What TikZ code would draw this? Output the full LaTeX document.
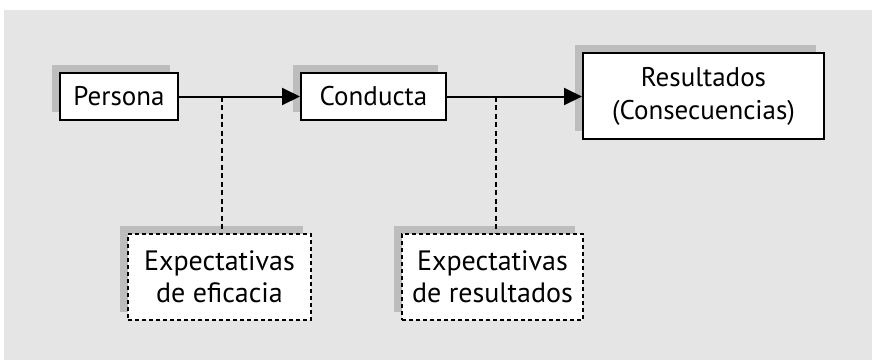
\documentclass[tikz,border=0pt]{standalone}
\usepackage{fontspec}
\setmainfont{PT Sans}
\usetikzlibrary{arrows.meta,shadows}

\tikzset{
  box/.style={draw, fill=white, line width=2pt, inner sep=0pt, align=center,
    font=\fontsize{27}{33}\selectfont,
    general shadow={shadow xshift=-8pt, shadow yshift=8pt, fill=black!26}},
  dashbox/.style={box, line width=1.8pt, dash pattern=on 4pt off 3pt,
    font=\fontsize{28}{32}\selectfont},
  link/.style={line width=2pt, -{Triangle[length=18pt,width=17pt]}},
  tie/.style={line width=2pt, dash pattern=on 5pt off 3.5pt}
}

\begin{document}
\begin{tikzpicture}[x=1pt,y=-1pt]
  \useasboundingbox (0,0) rectangle (872,360);
  \fill[gray!20] (4,10) rectangle (872,360);

  \node[box, minimum width=118pt, minimum height=47pt] (persona) at (119,96.5) {Persona};
  \node[box, minimum width=145pt, minimum height=47pt] (conducta) at (373.5,96.5) {Conducta};
  \node[box, minimum width=241pt, minimum height=86pt] (resultados) at (703.5,96) {Resultados\\(Consecuencias)};

  \node[dashbox, minimum width=183pt, minimum height=86pt] (eficacia) at (219.5,277) {Expectativas\\de eficacia};
  \node[dashbox, minimum width=181pt, minimum height=86pt] (expres) at (492.5,277) {Expectativas\\de resultados};

  \draw[link] (persona) -- (conducta);
  \draw[link] (conducta.east) -- (conducta.east -| resultados.west);

  \coordinate (j1) at (222,96.5);
  \coordinate (j2) at (496,96.5);
  \draw[tie] (j1) -- (j1 |- eficacia.north);
  \draw[tie] (j2) -- (j2 |- expres.north);
\end{tikzpicture}
\end{document}
